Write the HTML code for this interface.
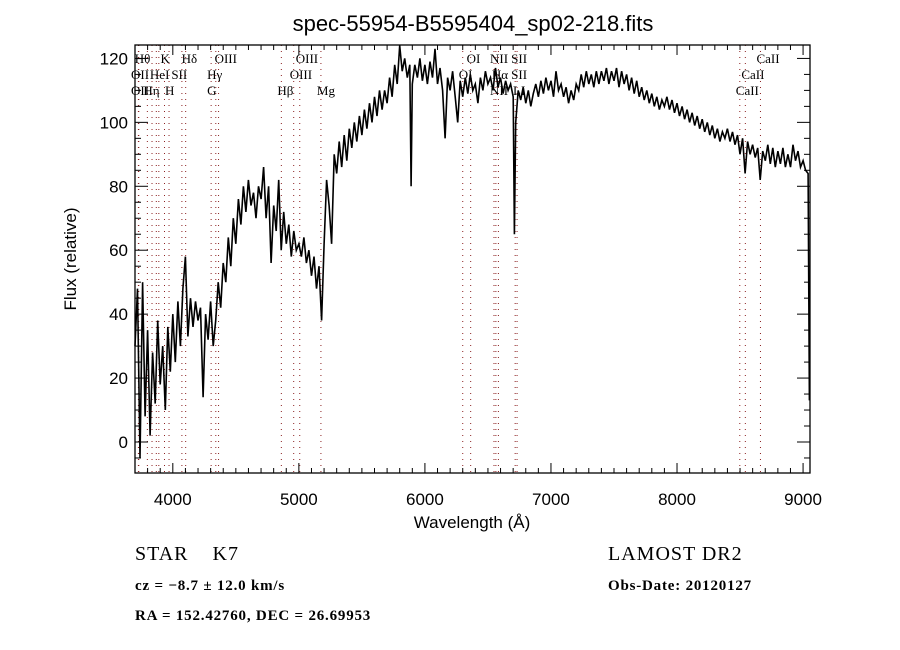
<!DOCTYPE html>
<html><head><meta charset="utf-8">
<style>
body{margin:0;background:#fff;}
svg{display:block;font-family:"Liberation Serif",serif;}
</style></head>
<body>
<svg id="chart" width="900" height="650" viewBox="0 0 900 650">
<rect x="0" y="0" width="900" height="650" fill="#fff"/>
<text x="473" y="31" text-anchor="middle" font-family="Liberation Sans, sans-serif" font-size="22">spec-55954-B5595404_sp02-218.fits</text>
<g id="lines"></g>
<g id="labels" font-size="13"></g>
<g id="spec"></g>
<g id="axes"></g>
<text x="472" y="528" text-anchor="middle" font-family="Liberation Sans, sans-serif" font-size="17">Wavelength (Å)</text>
<text transform="translate(76,259) rotate(-90)" text-anchor="middle" font-family="Liberation Sans, sans-serif" font-size="17">Flux (relative)</text>
<text x="135" y="560" font-size="20" letter-spacing="1">STAR&#160;&#160;&#160;&#160;K7</text>
<text x="608" y="560" font-size="20" letter-spacing="1">LAMOST DR2</text>
<text x="135" y="590" font-size="15" font-weight="bold" letter-spacing="0.8">cz = −8.7 ± 12.0 km/s</text>
<text x="608" y="590" font-size="15" font-weight="bold" letter-spacing="0.8">Obs-Date: 20120127</text>
<text x="135" y="620" font-size="15" font-weight="bold" letter-spacing="0.8">RA = 152.42760, DEC =  26.69953</text>
</svg>
<script>
const wavelengths = [3700,3720,3740,3760,3780,3800,3820,3840,3860,3880,3900,3920,3940,3960,3980,4000,4020,4040,4060,4080,4100,4120,4140,4160,4180,4200,4220,4240,4260,4280,4300,4320,4340,4360,4380,4400,4420,4440,4460,4480,4500,4520,4540,4560,4580,4600,4620,4640,4660,4680,4700,4720,4740,4760,4780,4800,4820,4840,4860,4880,4900,4920,4940,4960,4980,5000,5020,5040,5060,5080,5100,5120,5140,5160,5180,5200,5220,5240,5260,5280,5300,5320,5340,5360,5380,5400,5420,5440,5460,5480,5500,5520,5540,5560,5580,5600,5620,5640,5660,5680,5700,5720,5740,5760,5780,5800,5820,5840,5860,5880,5890,5900,5920,5940,5960,5980,6000,6020,6040,6060,6080,6100,6120,6140,6160,6180,6200,6220,6240,6260,6280,6300,6320,6340,6360,6380,6400,6420,6440,6460,6480,6500,6520,6540,6560,6580,6600,6620,6640,6660,6680,6700,6710,6720,6740,6760,6780,6800,6820,6840,6860,6880,6900,6920,6940,6960,6980,7000,7020,7040,7060,7080,7100,7120,7140,7160,7180,7200,7220,7240,7260,7280,7300,7320,7340,7360,7380,7400,7420,7440,7460,7480,7500,7520,7540,7560,7580,7600,7620,7640,7660,7680,7700,7720,7740,7760,7780,7800,7820,7840,7860,7880,7900,7920,7940,7960,7980,8000,8020,8040,8060,8080,8100,8120,8140,8160,8180,8200,8220,8240,8260,8280,8300,8320,8340,8360,8380,8400,8420,8440,8460,8480,8500,8520,8540,8560,8580,8600,8620,8640,8660,8680,8700,8720,8740,8760,8780,8800,8820,8840,8860,8880,8900,8920,8940,8960,8980,9000,9020,9040,9050];
const fluxValues = [30,48,-5,50,8,35,2,28,12,38,18,30,10,36,22,40,25,44,30,48,58,33,45,36,44,38,42,14,40,32,44,30,38,50,42,56,50,64,55,70,62,76,68,80,72,82,74,78,70,80,76,86,70,80,56,74,66,82,60,72,62,68,58,66,60,62,58,64,56,60,52,58,48,55,38,62,82,74,62,90,84,94,86,96,88,98,92,100,94,102,96,104,98,106,100,108,102,110,104,110,106,114,108,118,112,124,116,120,114,118,80,112,118,114,120,113,118,112,119,114,123,112,117,110,95,114,110,116,108,100,113,108,114,109,115,110,112,106,114,110,116,112,114,110,117,111,114,109,113,110,112,108,65,100,110,107,111,106,110,105,109,112,108,113,109,114,110,113,108,116,110,112,108,111,106,110,107,112,110,115,111,116,112,115,111,116,112,116,113,117,112,116,113,117,111,116,112,115,110,114,109,113,108,111,107,110,106,109,105,108,104,107,105,108,104,107,103,106,102,105,101,104,100,103,99,102,98,101,97,100,96,99,95,98,94,97,95,98,94,97,93,96,90,95,84,94,90,93,89,92,82,91,88,93,87,92,86,91,87,92,86,90,86,93,88,91,86,88,85,84,13];
const lineWaves = [3727,3730,3798,3835,3869,3889,3934,3970,4072,4102,4304,4341,4363,4861,4959,5007,5175,6300,6363,6548,6563,6583,6716,6731,8498,8542,8662];
const xTickLabels = [4000,5000,6000,7000,8000,9000];
const yTickLabels = [0,20,40,60,80,100,120];
const labelTexts = ["Hθ","K","Hδ","OIII","OIII","OI","NII","SII","CaII","OII","HeI","SII","Hγ","OIII","OI","Hα","SII","CaII","OII","Hη","H","G","Hβ","Mg","NII","LI","CaII"];
const labelWaves = [3730,3934,4102,4363,5007,6363,6548,6716,8662,3700,3850,4020,4304,4959,6300,6563,6716,8542,3700,3798,3970,4304,4861,5175,6548,6731,8498];
const labelRows = [0,0,0,0,0,0,0,0,0,1,1,1,1,1,1,1,1,1,2,2,2,2,2,2,2,2,2];

const X0=135,X1=810,Y0=45,Y1=473, XMIN=3700, XMAX=9055, YMIN=-9.7, YMAX=124.2;
function xs(w){return X0+(w-XMIN)/(XMAX-XMIN)*(X1-X0);}
function ys(f){return Y1-(f-YMIN)/(YMAX-YMIN)*(Y1-Y0);}
const NS='http://www.w3.org/2000/svg';
function mk(tag,attrs,parent){const e=document.createElementNS(NS,tag);for(const k in attrs)e.setAttribute(k,attrs[k]);parent.appendChild(e);return e;}

const gl=document.getElementById('lines');
lineWaves.forEach(w=>{
  const l=mk('line',{x1:xs(w),x2:xs(w),y1:Y0,y2:Y1,stroke:'#8b2020','stroke-width':1,'stroke-dasharray':'1,5'},gl);
  
  
});

const glab=document.getElementById('labels');
labelTexts.forEach((t,i)=>{
  const e=mk('text',{x:xs(labelWaves[i])-4,y:63+labelRows[i]*16},glab);
  e.textContent=t;
  
  
});

const gs=document.getElementById('spec');
let d='';
wavelengths.forEach((w,i)=>{
  const y=Math.max(Y0,Math.min(Y1,ys(fluxValues[i])));
  d+=(i?'L':'M')+xs(w).toFixed(1)+','+y.toFixed(1);
});
const p=mk('path',{d:d,fill:'none',stroke:'#000','stroke-width':1.6},gs);



const ga=document.getElementById('axes');
const fr=mk('rect',{x:X0,y:Y0,width:X1-X0,height:Y1-Y0,fill:'none',stroke:'#000','stroke-width':1.3},ga);


for(let w=3700;w<=9050;w+=100){
  const len=(w%1000===0)?10:5;
  mk('line',{x1:xs(w),x2:xs(w),y1:Y1,y2:Y1-len,stroke:'#000'},ga);
  mk('line',{x1:xs(w),x2:xs(w),y1:Y0,y2:Y0+len,stroke:'#000'},ga);
}
for(let f=-5;f<=120;f+=5){
  const len=(f%20===0)?13:6;
  mk('line',{x1:X0,x2:X0+len,y1:ys(f),y2:ys(f),stroke:'#000'},ga);
  mk('line',{x1:X1,x2:X1-len,y1:ys(f),y2:ys(f),stroke:'#000'},ga);
}
xTickLabels.forEach(v=>{
  const t=mk('text',{x:xs(v),y:Y1+32,'text-anchor':'middle','font-family':'Liberation Sans, sans-serif','font-size':17},ga);
  t.textContent=v;
  
  
});
yTickLabels.forEach(v=>{
  const t=mk('text',{x:X0-7,y:ys(v)+6,'text-anchor':'end','font-family':'Liberation Sans, sans-serif','font-size':17},ga);
  t.textContent=v;
  
  
});
</script>
</body></html>
